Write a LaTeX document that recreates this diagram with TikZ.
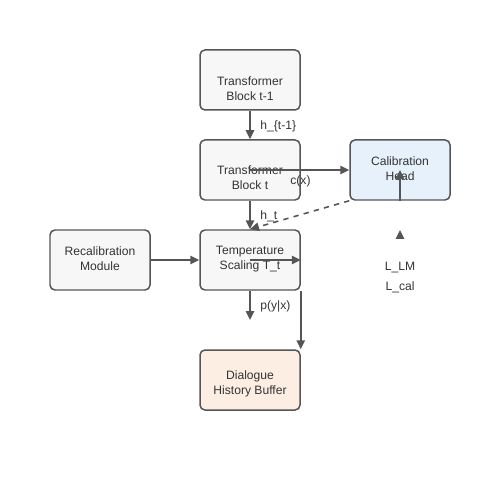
\documentclass[tikz,border=0pt]{standalone}
\usepackage{fontspec}
\setmainfont{Liberation Sans}
\usetikzlibrary{arrows.meta}
\definecolor{linegray}{HTML}{555555}
\definecolor{textgray}{HTML}{333333}
\definecolor{boxgray}{HTML}{F7F7F7}
\definecolor{headblue}{HTML}{E6F1FC}
\definecolor{bufpeach}{HTML}{FDEEE3}
\tikzset{
  box/.style={draw=linegray, line width=0.85pt, rounded corners=2.8pt, fill=boxgray, minimum width=2cm, minimum height=1.2cm},
  txt/.style={text=textgray, align=center, font=\fontsize{6.9}{8.5}\selectfont},
  lbl/.style={txt, anchor=west, inner sep=0pt},
  arr/.style={draw=linegray, line width=0.9pt, -{Triangle[length=0.18cm,width=0.17cm]}}
}
\begin{document}
\begin{tikzpicture}
\useasboundingbox (0,0) rectangle (10,-10);
\node [box] (blkprev) at (5,-1.6) {};
\node [box] (blkt) at (5,-3.4) {};
\node [box, fill=headblue] (head) at (8,-3.4) {};
\node [box] (recal) at (2,-5.2) {};
\node [box] (temp) at (5,-5.2) {};
\node [box, fill=bufpeach] (dlg) at (5,-7.6) {};
\node [txt] (blkprevtxt) at (5,-1.77) {Transformer\\Block t-1};
\node [txt] (blkttxt) at (5,-3.56) {Transformer\\Block t};
\node [txt] (headtxt) at (8,-3.37) {Calibration\\Head};
\node [txt] (recaltxt) at (2,-5.17) {Recalibration\\Module};
\node [txt] (temptxt) at (5,-5.18) {Temperature\\Scaling T\_t};
\node [txt] (dlgtxt) at (5,-7.67) {Dialogue\\History Buffer};
\coordinate (pout) at (5,-6.4);
\coordinate (lossin) at (8,-4.76);
\draw [arr] (blkprev) -- (blkt);
\draw [arr] (blkt.center) -- (head.west);
\draw [arr] (blkt) -- (temp);
\draw [arr, dashed] (head.south west) -- (temp.north);
\draw [arr] (recal) -- (temp);
\draw [arr] (temp.center) -- (temp.east);
\draw [arr] (temp) -- (pout);
\draw [arr] (temp.south east) -- (dlg.north east);
\draw [arr] (head.south) -- (head.center);
\draw [arr] (lossin) -- ++(0,0.16);
\node [lbl] (hprev) at (5.2,-2.53) {h\_\{t-1\}};
\node [lbl] (cx) at (5.8,-3.63) {c(x)};
\node [lbl] (ht) at (5.2,-4.33) {h\_t};
\node [lbl] (pyx) at (5.2,-6.13) {p(y|x)};
\node [txt] (llm) at (8,-5.35) {L\_LM};
\node [txt] (lcal) at (8,-5.75) {L\_cal};
\end{tikzpicture}
\end{document}
